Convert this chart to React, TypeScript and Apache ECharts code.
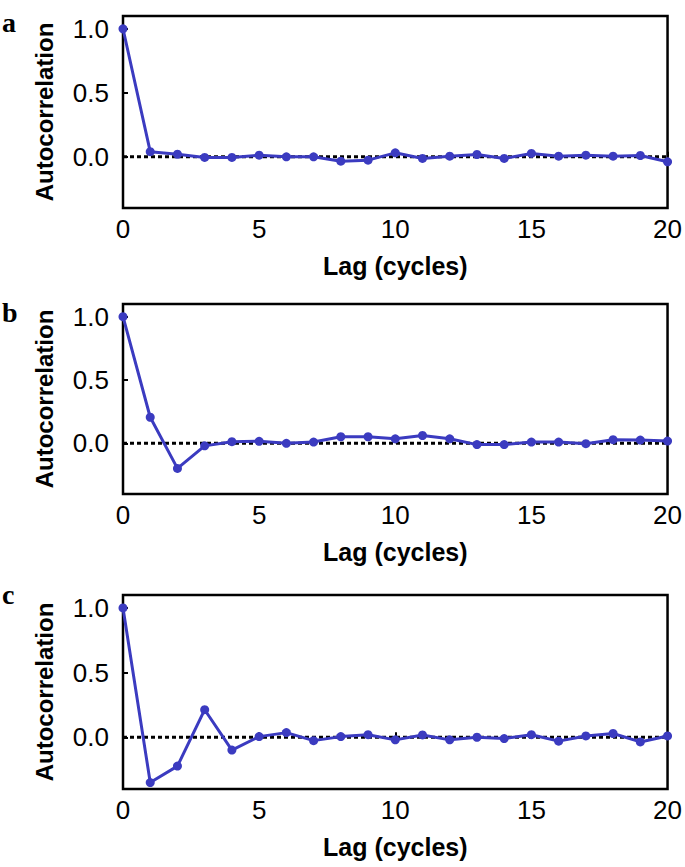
import React, { useEffect, useRef } from "react";
import * as echarts from "echarts";

const lags = [0, 1, 2, 3, 4, 5, 6, 7, 8, 9, 10, 11, 12, 13, 14, 15, 16, 17, 18, 19, 20];
const panelLabels = ["a", "b", "c"];
const seriesA = [1.0, 0.04, 0.02, -0.005, -0.005, 0.013, 0.0, 0.0, -0.034, -0.026, 0.031, -0.013, 0.005, 0.018, -0.013, 0.026, 0.005, 0.013, 0.005, 0.01, -0.039];
const seriesB = [1.0, 0.206, -0.198, -0.02, 0.013, 0.016, 0.0, 0.01, 0.052, 0.052, 0.036, 0.062, 0.036, -0.01, -0.01, 0.01, 0.01, -0.003, 0.029, 0.026, 0.018];
const seriesC = [1.0, -0.35, -0.223, 0.213, -0.099, 0.005, 0.036, -0.026, 0.005, 0.02, -0.02, 0.018, -0.02, 0.0, -0.01, 0.02, -0.03, 0.01, 0.029, -0.036, 0.01];
const yTickValues = [0, 0.5, 1.0];
const xTickValues = [0, 5, 10, 15, 20];
const xTitle = "Lag (cycles)";
const yTitle = "Autocorrelation";

const allSeries = [seriesA, seriesB, seriesC];

const FONT = "'Liberation Sans', Arial, Helvetica, sans-serif";
const BLUE = "#3b3bc0";

export default function App() {
  const ref = useRef<HTMLDivElement>(null);
  useEffect(() => {
    if (!ref.current) return;
    const chart = echarts.init(ref.current, null, { renderer: "svg" });
    const grids = [
      { left: 123, top: 16, width: 549, height: 192 },
      { left: 123, top: 304, width: 549, height: 190 },
      { left: 123, top: 595, width: 549, height: 194 },
    ];
    const letterY = [22, 312, 594];
    const option: any = {
      animation: false,
      backgroundColor: "#fff",
      grid: grids.map((g) => ({
        ...g,
        show: true,
        borderColor: "#000",
        borderWidth: 2.5,
        backgroundColor: "transparent",
        containLabel: false,
      })),
      xAxis: grids.map((_, i) => ({
        type: "value",
        gridIndex: i,
        min: 0,
        max: 20,
        interval: 5,
        name: xTitle,
        nameLocation: "middle",
        nameGap: 45,
        nameTextStyle: { fontFamily: FONT, fontSize: 25, fontWeight: "bold", color: "#000" },
        axisLine: { show: false },
        axisTick: {
          show: true,
          inside: true,
          length: 5,
          lineStyle: { color: "#000", width: 2 },
          customValues: xTickValues,
        },
        axisLabel: {
          show: true,
          margin: 8,
          fontFamily: FONT,
          fontSize: 26,
          color: "#000",
          customValues: xTickValues,
          formatter: (v: number) => String(v),
        },
        splitLine: { show: false },
      })),
      yAxis: grids.map((_, i) => ({
        type: "value",
        gridIndex: i,
        min: -0.4,
        max: 1.1,
        name: yTitle,
        nameLocation: "middle",
        nameGap: 67,
        nameTextStyle: { fontFamily: FONT, fontSize: 24, fontWeight: "bold", color: "#000" },
        axisLine: { show: false },
        axisTick: {
          show: true,
          inside: true,
          length: 5,
          lineStyle: { color: "#000", width: 2 },
          customValues: yTickValues,
        },
        axisLabel: {
          show: true,
          margin: 14,
          fontFamily: FONT,
          fontSize: 26,
          color: "#000",
          customValues: yTickValues,
          formatter: (v: number) => v.toFixed(1),
        },
        splitLine: { show: false },
      })),
      graphic: panelLabels.map((t, i) => ({
        type: "text",
        left: 2,
        top: letterY[i] - 14,
        style: {
          text: t,
          fontFamily: "'Liberation Serif', 'Times New Roman', serif",
          fontWeight: "bold",
          fontSize: 28,
          fill: "#000",
        },
      })),
      series: allSeries.flatMap((vals, i) => [
        {
          type: "line",
          xAxisIndex: i,
          yAxisIndex: i,
          data: [
            [lags[0], 0],
            [lags[lags.length - 1], 0],
          ],
          symbol: "none",
          silent: true,
          z: 1,
          lineStyle: { color: "#000", width: 3, type: [4, 3] },
        },
        {
          type: "line",
          xAxisIndex: i,
          yAxisIndex: i,
          data: lags.map((l, k) => [l, vals[k]]),
          symbol: "circle",
          symbolSize: 9,
          z: 2,
          itemStyle: { color: BLUE },
          lineStyle: { color: BLUE, width: 3 },
        },
      ]),
    };
    chart.setOption(option);
    return () => chart.dispose();
  }, []);
  return (
    <div
      ref={ref}
      style={{ position: "fixed", left: 0, top: 0, width: 685, height: 867, background: "#fff" }}
    />
  );
}
